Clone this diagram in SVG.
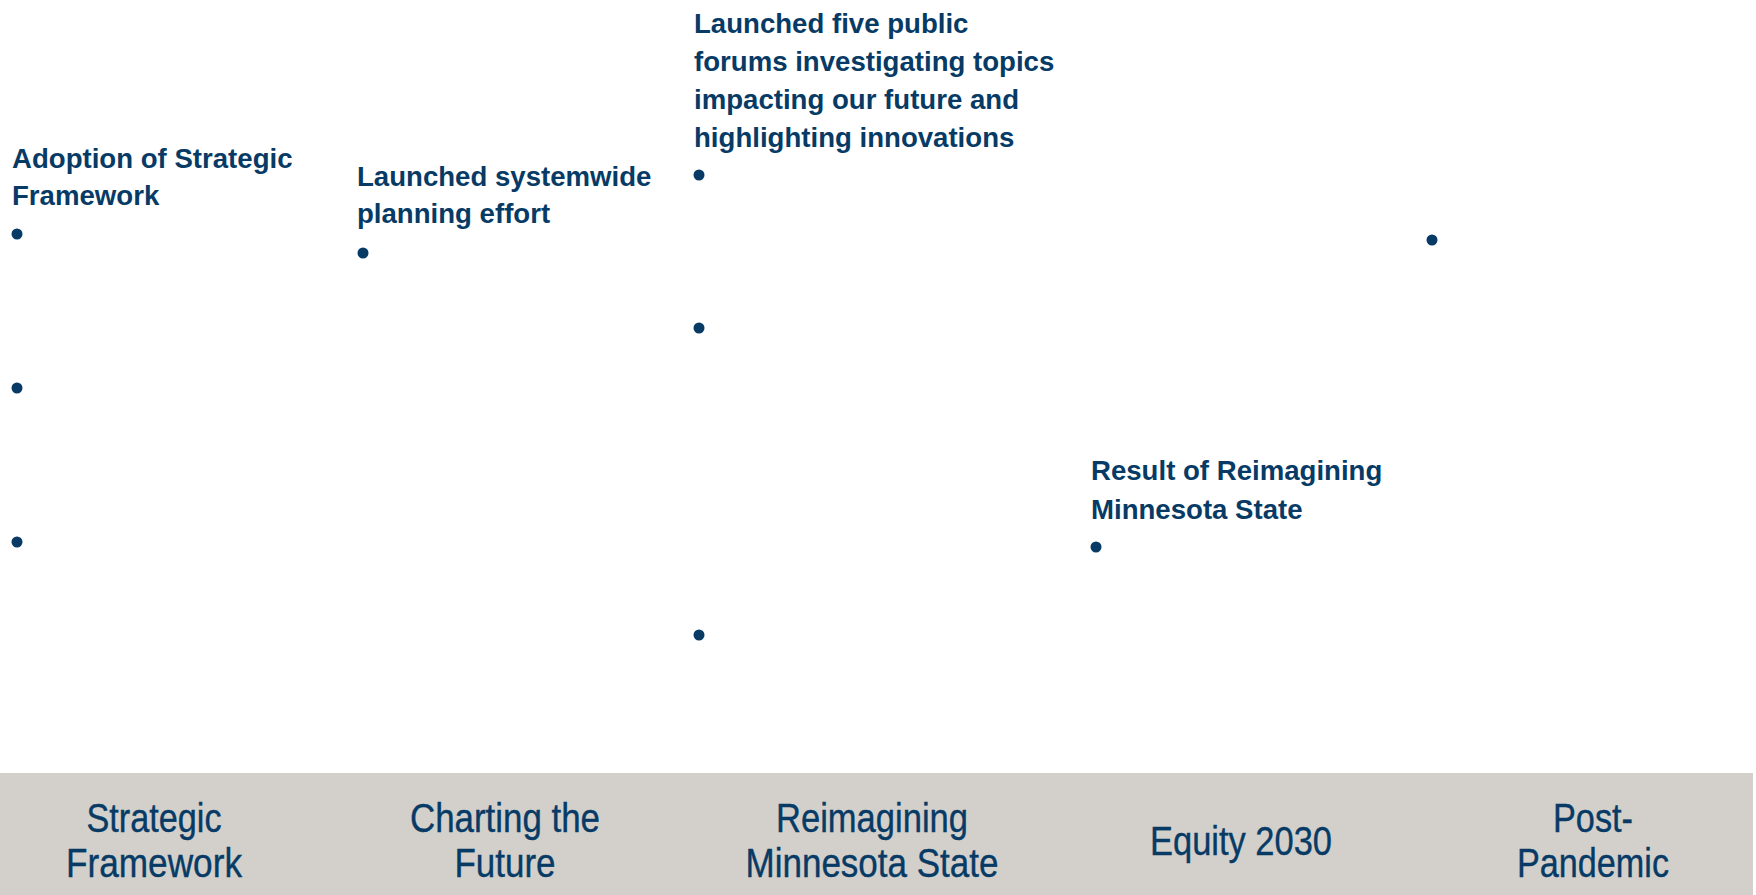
<svg xmlns="http://www.w3.org/2000/svg" width="1756" height="895" viewBox="0 0 1756 895">
<style>
.lbl{font-family:"Liberation Sans",Arial,sans-serif;font-weight:700;font-size:27.6px;fill:#073b66}
.band{font-family:"Liberation Sans",Arial,sans-serif;font-size:40px;fill:#073b66;text-anchor:middle;stroke:#073b66;stroke-width:0.4}
.dot{fill:#073b66}
</style>
<rect x="0" y="0" width="1756" height="895" fill="#ffffff"/>
<g id="events">
  <g id="strategic-framework-event">
    <text class="lbl" x="12" y="168">Adoption of Strategic</text>
    <text class="lbl" x="12" y="205">Framework</text>
    <circle class="dot" cx="17" cy="234" r="5.5"/>
    <circle class="dot" cx="17" cy="388" r="5.5"/>
    <circle class="dot" cx="17" cy="542" r="5.5"/>
  </g>
  <g id="charting-event">
    <text class="lbl" x="357" y="186">Launched systemwide</text>
    <text class="lbl" x="357" y="223">planning effort</text>
    <circle class="dot" cx="363" cy="253" r="5.5"/>
  </g>
  <g id="reimagining-event">
    <text class="lbl" x="694" y="33">Launched five public</text>
    <text class="lbl" x="694" y="71">forums investigating topics</text>
    <text class="lbl" x="694" y="109">impacting our future and</text>
    <text class="lbl" x="694" y="147">highlighting innovations</text>
    <circle class="dot" cx="699" cy="175" r="5.5"/>
    <circle class="dot" cx="699" cy="328" r="5.5"/>
    <circle class="dot" cx="699" cy="635" r="5.5"/>
  </g>
  <g id="equity-event">
    <text class="lbl" x="1091" y="480">Result of Reimagining</text>
    <text class="lbl" x="1091" y="519">Minnesota State</text>
    <circle class="dot" cx="1096" cy="547" r="5.5"/>
  </g>
  <g id="post-pandemic-event">
    <circle class="dot" cx="1432" cy="240" r="5.5"/>
  </g>
</g>
<g id="connectors"></g>
<g id="timeline-band">
  <rect x="0" y="773" width="1753" height="122" fill="#d3d0cb"/>
  <g id="phase-strategic"><text class="band" x="154" y="832" textLength="135" lengthAdjust="spacingAndGlyphs">Strategic</text><text class="band" x="154" y="877" textLength="176" lengthAdjust="spacingAndGlyphs">Framework</text></g>
  <g id="phase-charting"><text class="band" x="505" y="832" textLength="190" lengthAdjust="spacingAndGlyphs">Charting the</text><text class="band" x="505" y="877" textLength="101" lengthAdjust="spacingAndGlyphs">Future</text></g>
  <g id="phase-reimagining"><text class="band" x="872" y="832" textLength="192" lengthAdjust="spacingAndGlyphs">Reimagining</text><text class="band" x="872" y="877" textLength="253" lengthAdjust="spacingAndGlyphs">Minnesota State</text></g>
  <g id="phase-equity"><text class="band" x="1241" y="855" textLength="182" lengthAdjust="spacingAndGlyphs">Equity 2030</text></g>
  <g id="phase-post"><text class="band" x="1593" y="832" textLength="80" lengthAdjust="spacingAndGlyphs">Post-</text><text class="band" x="1593" y="877" textLength="152" lengthAdjust="spacingAndGlyphs">Pandemic</text></g>
</g>
</svg>
